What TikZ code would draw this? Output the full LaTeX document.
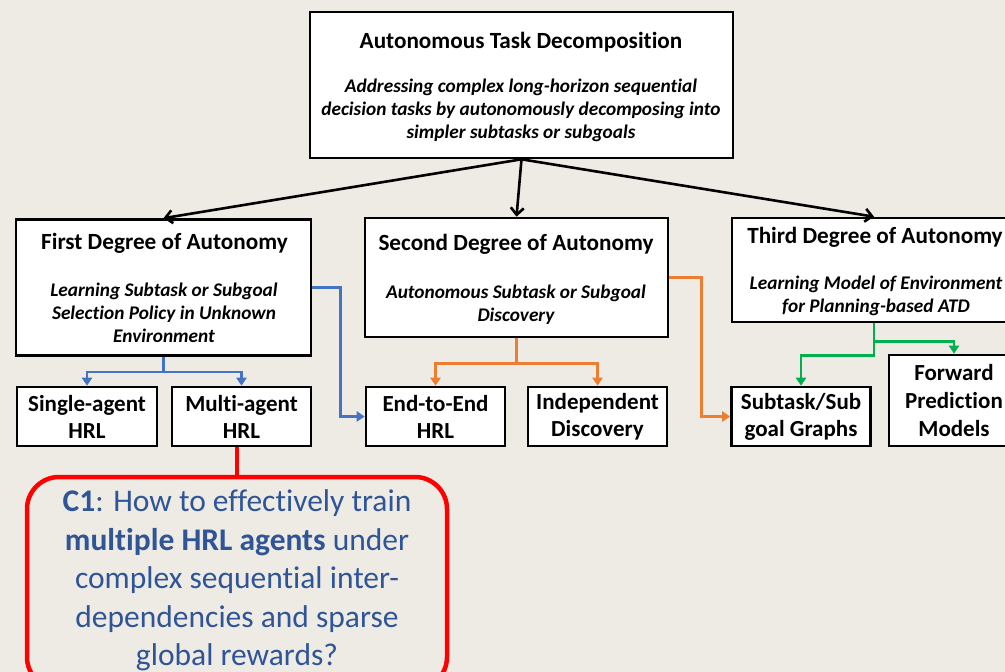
\documentclass[tikz,border=0pt]{standalone}
\usepackage{fontspec}
\setmainfont{Carlito}[Ligatures=NoCommon]
\usetikzlibrary{arrows.meta}
\definecolor{bgc}{RGB}{238,235,228}
\definecolor{cblue}{RGB}{68,114,196}
\definecolor{corange}{RGB}{237,125,49}
\definecolor{cgreen}{RGB}{0,176,80}
\definecolor{cred}{RGB}{255,0,0}
\definecolor{ctext}{RGB}{47,85,151}
\tikzset{
  box/.style={draw=black, line width=2.6pt, fill=white, rectangle, inner sep=0pt},
  leaf/.style={box, minimum height=59pt, align=center, font=\fontsize{23}{27}\selectfont\bfseries},
  ttl/.style={font=\fontsize{23.2}{27}\selectfont\bfseries, inner sep=0pt},
  desc/.style={align=center, font=\fontsize{19.3}{23}\selectfont\bfseries\itshape, inner sep=0pt},
  main/.style={line width=2.6pt, -{Straight Barb[length=7pt,width=13pt,line width=2.6pt]}},
  sub/.style={line width=2.4pt, -{Triangle[length=8pt,width=10pt]}},
}
\begin{document}
\begin{tikzpicture}[x=1pt,y=-1pt]
\fill[bgc, use as bounding box] (0,0) rectangle (1005,672);

% top level
\node[box, minimum width=423pt, minimum height=146pt] (atd) at (521.5,85) {};
\node[ttl] (atdT) at (521,42) {Autonomous Task Decomposition};
\node[desc] (atdD) at (521,110) {Addressing complex long-horizon sequential\\decision tasks by autonomously decomposing into\\simpler subtasks or subgoals};

% degrees of autonomy
\node[box, minimum width=295pt, minimum height=136pt] (first) at (163.5,287.5) {};
\node[ttl] (firstT) at (164.5,243) {First Degree of Autonomy};
\node[desc] (firstD) at (164,313) {Learning Subtask or Subgoal\\Selection Policy in Unknown\\Environment};

\node[box, minimum width=303pt, minimum height=119pt] (second) at (516.5,277.5) {};
\node[ttl] (secondT) at (516,244) {Second Degree of Autonomy};
\node[desc] (secondD) at (516,304.5) {Autonomous Subtask or Subgoal\\Discovery};

\node[box, minimum width=284pt, minimum height=104pt] (third) at (874,270) {};
\node[ttl] (thirdT) at (875,237) {Third Degree of Autonomy};
\node[desc] (thirdD) at (876,295.5) {Learning Model of Environment\\for Planning-based ATD};

% leaves
\node[leaf, minimum width=140pt] (single) at (87,416.5) {Single-agent\\HRL};
\node[leaf, minimum width=139pt] (multi) at (241.5,416.5) {Multi-agent\\HRL};
\node[leaf, minimum width=139pt] (e2e) at (435.5,416.5) {End-to-End\\HRL};
\node[leaf, minimum width=139pt] (indep) at (597.5,416.5) {Independent\\Discovery};
\node[leaf, minimum width=139pt] (graphs) at (801,416.5) {Subtask/Sub\\goal Graphs};
\node[box, minimum width=130pt, minimum height=91pt] (forward) at (954,400.5) {};
\node[align=center, font=\fontsize{23}{28}\selectfont\bfseries, inner sep=0pt] (forwardT) at (954,401) {Forward\\Prediction\\Models};

% challenge callout
\node[draw=cred, line width=4.5pt, fill=bgc, rounded corners=32pt, minimum width=420pt, minimum height=212pt] (c1) at (237,583) {};
\node[align=center, text=ctext, font=\fontsize{31.5}{38.5}\selectfont, inner sep=0pt] (c1T) at (237,580.5) {\textbf{C1}: How to effectively train\\\textbf{multiple HRL agents} under\\complex sequential inter-\\dependencies and sparse\\global rewards?};

% connectors
\draw[main] (atd.south) -- (first.north);
\draw[main] (atd.south) -- (second.north);
\draw[main] (atd.south) -- (third.north);

\draw[sub, cblue] (first.south) -- ++(0,15) -| (single.north);
\draw[sub, cblue] (first.south) -- ++(0,15) -| (multi.north);
\draw[sub, cblue] (first.east) -- ++(28,0) |- (e2e.west);

\draw[sub, corange] (second.south) -- ++(0,25) -| (e2e.north);
\draw[sub, corange] (second.south) -- ++(0,25) -| (indep.north);
\draw[sub, corange] (second.east) -- ++(32,0) |- (graphs.west);

\draw[sub, cgreen] (third.south) -- ++(0,18) -| (forward.north);
\draw[sub, cgreen] (third.south) -- ++(0,32) -| (graphs.north);

\draw[cred, line width=4pt] (multi.south -| c1.north) -- (c1.north);
\end{tikzpicture}
\end{document}
